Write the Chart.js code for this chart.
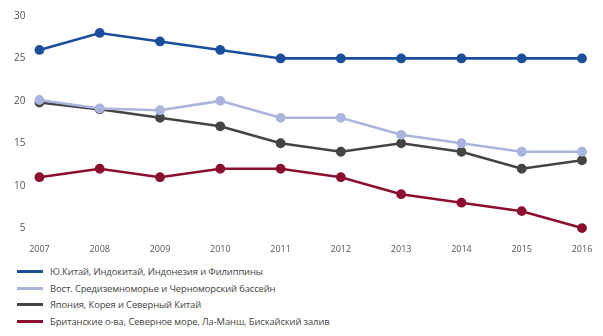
<!DOCTYPE html>
<html>
<head>
<meta charset="utf-8">
<title>Line chart</title>
<script src="https://cdn.jsdelivr.net/npm/chart.js"></script>
<style>
	body{ margin:0; background:#fff; font-family:"Open Sans", sans-serif; }
	#wrap{ position:relative; width:603px; height:258px; overflow:hidden; }
	#myChart{ position:absolute; left:0; top:-4px; }
	#legend{ margin:6px 0 0 17px; padding:0; list-style:none; }
	#legend li{ height:16.6px; line-height:16.6px; font-size:9.4px; color:#444; white-space:nowrap; letter-spacing:-0.1px; }
	#legend span.sw{ display:inline-block; width:26px; height:3px; vertical-align:middle; margin-right:7px; position:relative; top:-1px; }
</style>
</head>
<body>
<div id="wrap"><canvas id="myChart" width="603" height="264"></canvas></div>
<ul id="legend"></ul>
<script>
var years = ['2007','2008','2009','2010','2011','2012','2013','2014','2015','2016'];
var seriesNames = [
	'Ю.Китай, Индокитай, Индонезия и Филиппины',
	'Вост. Средиземноморье и Черноморский бассейн',
	'Япония, Корея и Северный Китай',
	'Британские о-ва, Северное море, Ла-Манш, Бискайский залив'
];
var southChina = [26, 28, 27, 26, 25, 25, 25, 25, 25, 25];
var eastMed = [20.1, 19.1, 18.9, 20, 18, 18, 16, 15, 14, 14];
var japanKorea = [19.8, 19, 18, 17, 15, 14, 15, 14, 12, 13];
var britishIsles = [11, 12, 11, 12, 12, 11, 9, 8, 7, 5];
var yTicks = [5, 10, 15, 20, 25, 30];
var colors = ['#1b4f9c', '#a9b5dd', '#444444', '#8c0f30'];

var allSeries = [southChina, eastMed, japanKorea, britishIsles];
var datasets = [];
for (var i = 0; i < allSeries.length; i++) {
	datasets.push({
		label: seriesNames[i],
		data: allSeries[i],
		borderColor: colors[i],
		backgroundColor: colors[i],
		borderWidth: 2.6,
		pointRadius: 3.6,
		pointHoverRadius: 3.6,
		tension: 0,
		fill: false
	});
}

var chartConfig = {
	type: 'line',
	data: { labels: years, datasets: datasets },
	options: {
		responsive: false,
		animation: false,
		layout: { padding: { top: 4, right: 21, left: 0, bottom: 0 } },
		plugins: { legend: { display: false }, tooltip: { enabled: false } },
		scales: {
			x: {
				grid: { display: false, drawTicks: false },
				border: { display: false },
				ticks: { color: '#555', font: { family: 'Open Sans', size: 9 }, padding: 4, maxRotation: 0 }
			},
			y: {
				min: 3.6,
				max: 30,
				grid: { display: false, drawTicks: false },
				border: { display: false },
				afterBuildTicks: function(axis) {
					axis.ticks = yTicks.map(function(v){ return { value: v }; });
				},
				ticks: { color: '#555', font: { family: 'Open Sans', size: 10 }, padding: 14 }
			}
		}
	}
};
new Chart(document.getElementById('myChart'), chartConfig);

// legend, one row per series
var lg = document.getElementById('legend');
for (var j = 0; j < seriesNames.length; j++) {
	var li = document.createElement('li');
	li.innerHTML = '<span class="sw" style="background:' + colors[j] + '"></span>' + seriesNames[j];
	lg.appendChild(li);
}
</script>
</body>
</html>
